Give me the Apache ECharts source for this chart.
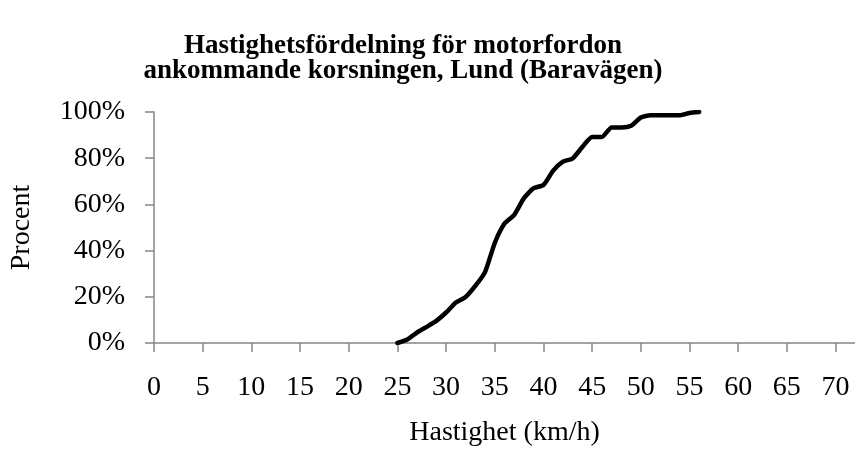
<!DOCTYPE html>
<html>
<head>
<meta charset="utf-8">
<script src="https://cdn.jsdelivr.net/npm/echarts@6/dist/echarts.min.js"></script>
<style>
  html, body { margin: 0; padding: 0; background: #fff; }
  #chart { width: 855px; height: 455px; }
</style>
</head>
<body>
<div id="chart"></div>
<script>
  // hastighet (km/h) och kumulativ andel (%)
  var speeds = [25, 26, 27, 28, 29, 30, 31, 32, 33, 34, 35, 36, 37, 38, 39, 40,
                41, 42, 43, 44, 45, 46, 47, 48, 49, 50, 51, 52, 53, 54, 55, 56]
  var cumShare = [0, 1.5, 4.5, 7, 9.6, 13.2, 17.5, 19.9, 24.7, 30.7, 43.3, 51.7, 55.5, 62.7, 67, 68.4,
                  74.6, 78.5, 79.9, 84.9, 89.2, 89.2, 93.3, 93.3, 94, 97.6, 98.6, 98.6, 98.6, 98.6, 99.6, 100]
  var yTicks = [0, 20, 40, 60, 80, 100]

  var serif = 'Liberation Serif'
  var axisGrey = '#868686'

  var chart = echarts.init(document.getElementById('chart'))
  chart.setOption({
    animation: false,
    title: {
      text: 'Hastighetsfördelning för motorfordon\nankommande korsningen, Lund (Baravägen)',
      left: 398,
      textAlign: 'center',
      top: 29,
      textStyle: {
        fontFamily: serif,
        fontWeight: 'bold',
        fontSize: 27,
        lineHeight: 25,
        color: '#000'
      }
    },
    grid: {
      left: 153,
      right: -3,
      top: 112,
      bottom: 112
    },
    xAxis: {
      type: 'value',
      min: 0,
      max: 72,
      interval: 5,
      name: 'Hastighet (km/h)',
      nameLocation: 'middle',
      nameGap: 76,
      nameTextStyle: { fontFamily: serif, fontSize: 28, color: '#000' },
      axisLine: { lineStyle: { color: axisGrey, width: 1.5 } },
      axisTick: { show: true, length: 9, lineStyle: { color: axisGrey, width: 1.5 } },
      axisLabel: {
        margin: 31,
        showMaxLabel: false,
        fontFamily: serif,
        fontSize: 28,
        color: '#000',
        formatter: function (v) { return v % 5 === 0 ? String(v) : '' }
      },
      splitLine: { show: false }
    },
    yAxis: {
      type: 'value',
      min: yTicks[0],
      max: yTicks[yTicks.length - 1],
      interval: 20,
      name: 'Procent',
      nameLocation: 'middle',
      nameGap: 118,
      nameRotate: 90,
      nameTextStyle: { fontFamily: serif, fontSize: 28, color: '#000' },
      axisLine: { show: true, lineStyle: { color: axisGrey, width: 1.5 } },
      axisTick: { show: true, length: 9, lineStyle: { color: axisGrey, width: 1.5 } },
      axisLabel: {
        margin: 29,
        fontFamily: serif,
        fontSize: 28,
        color: '#000',
        formatter: '{value}%'
      },
      splitLine: { show: false }
    },
    series: [{
      type: 'line',
      data: speeds.map(function (s, i) { return [s, cumShare[i]] }),
      showSymbol: false,
      smooth: 0.2,
      lineStyle: { color: '#000', width: 4.5, join: 'round', cap: 'round' }
    }]
  })
</script>
</body>
</html>
